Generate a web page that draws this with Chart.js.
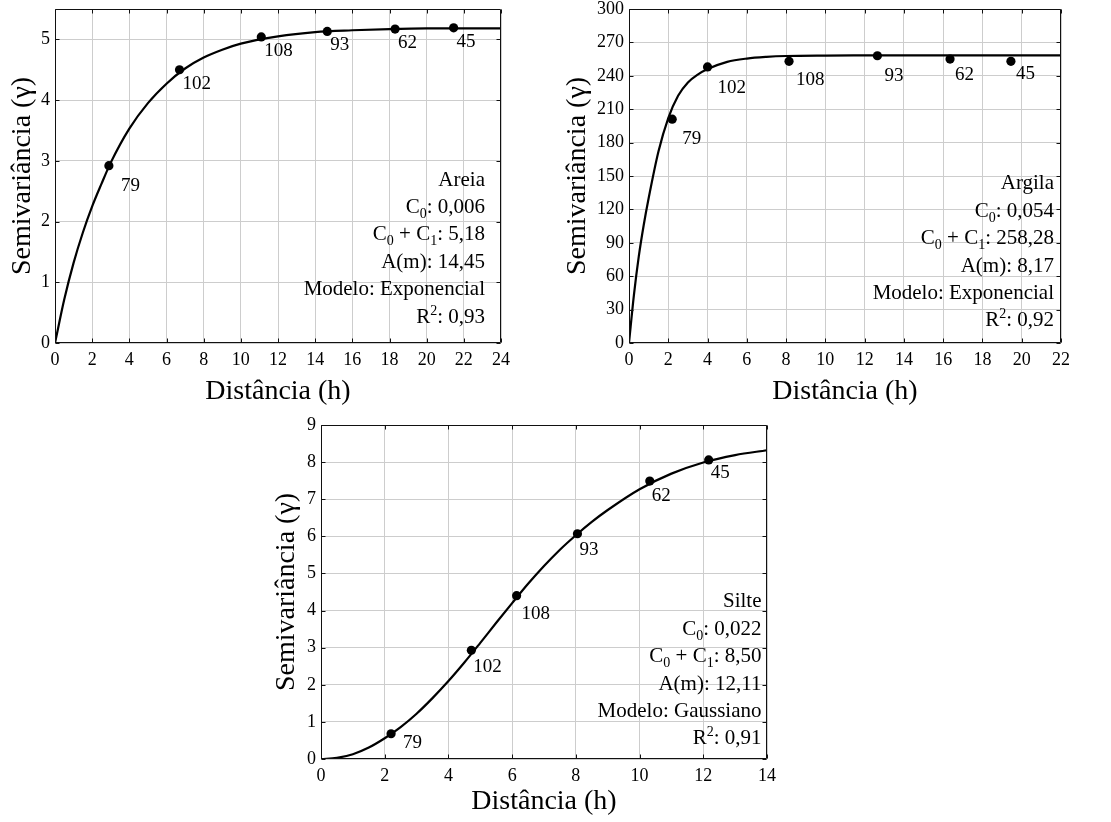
<!DOCTYPE html>
<html>
<head>
<meta charset="utf-8">
<script src="https://cdn.jsdelivr.net/npm/chart.js@4.4.1/dist/chart.umd.min.js"></script>
<style>
  html, body { margin: 0; padding: 0; background: #fff; }
  #wrap { position: relative; width: 1111px; height: 822px; overflow: hidden; background: #fff; }
  canvas { position: absolute; display: block; }
</style>
</head>
<body>
<div id="wrap">
  <canvas id="cAreia" width="530" height="412" style="left:0px;top:0px"></canvas>
  <canvas id="cArgila" width="551" height="412" style="left:560px;top:0px"></canvas>
  <canvas id="cSilte" width="530" height="410" style="left:265px;top:412px"></canvas>
</div>
<script>
// ---------- Areia ----------
const areiaLagH   = [2.9, 6.7, 11.1, 14.65, 18.3, 21.45];
const areiaGamma  = [2.92, 4.50, 5.04, 5.13, 5.17, 5.19];
const areiaPairs  = [79, 102, 108, 93, 62, 45];
const areiaModelH = [0, 0.5, 1, 1.5, 2, 2.5, 3, 4, 5, 6, 7, 8, 9, 10, 12, 14, 16, 18, 20, 22, 24];
const areiaModelG = [0, 0.72, 1.32, 1.82, 2.25, 2.62, 2.97, 3.53, 3.95, 4.27, 4.52, 4.70, 4.83, 4.93, 5.05, 5.12, 5.15, 5.17, 5.18, 5.18, 5.18];
const areiaXTicks = [0, 2, 4, 6, 8, 10, 12, 14, 16, 18, 20, 22, 24];
const areiaYTicks = [0, 1, 2, 3, 4, 5];
const areiaNotes = [
  [['Areia']],
  [['C'], ['0', 'sub'], [': 0,006']],
  [['C'], ['0', 'sub'], [' + C'], ['1', 'sub'], [': 5,18']],
  [['A(m): 14,45']],
  [['Modelo: Exponencial']],
  [['R'], ['2', 'sup'], [': 0,93']]
];

// ---------- Argila ----------
const argilaLagH   = [2.2, 4.0, 8.15, 12.65, 16.35, 19.45];
const argilaGamma  = [201, 248, 253, 258, 255, 253];
const argilaPairs  = [79, 102, 108, 93, 62, 45];
const argilaModelH = [0, 0.25, 0.5, 0.75, 1, 1.5, 2, 2.5, 3, 3.5, 4, 5, 6, 7, 8, 10, 12, 14, 16, 18, 20, 22];
const argilaModelG = [0, 43, 78, 106, 130, 172, 202, 222, 234, 241, 246, 252.5, 255.5, 257, 257.8, 258.2, 258.28, 258.28, 258.28, 258.28, 258.28, 258.28];
const argilaXTicks = [0, 2, 4, 6, 8, 10, 12, 14, 16, 18, 20, 22];
const argilaYTicks = [0, 30, 60, 90, 120, 150, 180, 210, 240, 270, 300];
const argilaNotes = [
  [['Argila']],
  [['C'], ['0', 'sub'], [': 0,054']],
  [['C'], ['0', 'sub'], [' + C'], ['1', 'sub'], [': 258,28']],
  [['A(m): 8,17']],
  [['Modelo: Exponencial']],
  [['R'], ['2', 'sup'], [': 0,92']]
];

// ---------- Silte ----------
const silteLagH   = [2.2, 4.72, 6.14, 8.05, 10.32, 12.17];
const silteGamma  = [0.68, 2.93, 4.40, 6.07, 7.49, 8.06];
const siltePairs  = [79, 102, 108, 93, 62, 45];
const silteModelH = [0, 0.5, 1, 1.5, 2, 2.5, 3, 3.5, 4, 4.5, 5, 5.5, 6, 6.5, 7, 7.5, 8, 8.5, 9, 10, 11, 12, 13, 14];
const silteModelG = [0, 0.03, 0.13, 0.31, 0.56, 0.86, 1.22, 1.64, 2.10, 2.60, 3.13, 3.67, 4.20, 4.72, 5.20, 5.64, 6.03, 6.39, 6.71, 7.27, 7.69, 7.99, 8.19, 8.32];
const silteXTicks = [0, 2, 4, 6, 8, 10, 12, 14];
const silteYTicks = [0, 1, 2, 3, 4, 5, 6, 7, 8, 9];
const silteNotes = [
  [['Silte']],
  [['C'], ['0', 'sub'], [': 0,022']],
  [['C'], ['0', 'sub'], [' + C'], ['1', 'sub'], [': 8,50']],
  [['A(m): 12,11']],
  [['Modelo: Gaussiano']],
  [['R'], ['2', 'sup'], [': 0,91']]
];

const X_TITLE = 'Distância (h)';
const Y_TITLE = 'Semivariância (γ)';

// ---------- styling ----------
const SERIF = "'Liberation Serif', 'Times New Roman', Times, serif";
const GRID = '#cdcdcd';

// plot frame drawn on top of the grid, with short inward tick marks on all four sides
const framePlugin = {
  id: 'frame',
  afterDatasetsDraw(chart) {
    const { ctx, chartArea: a, scales } = chart;
    ctx.save();
    ctx.strokeStyle = '#111';
    ctx.lineWidth = 1;
    const L = Math.round(a.left) + 0.5, R = Math.round(a.right) - 0.5;
    const T = Math.round(a.top) + 0.5, B = Math.round(a.bottom) - 0.5;
    ctx.beginPath();
    ctx.rect(L, T, R - L, B - T);
    const tl = 4;
    scales.x.ticks.forEach(t => {
      const p = Math.round(scales.x.getPixelForValue(t.value)) + 0.5;
      ctx.moveTo(p, B); ctx.lineTo(p, B - tl);
      ctx.moveTo(p, T); ctx.lineTo(p, T + tl);
    });
    scales.y.ticks.forEach(t => {
      const p = Math.round(scales.y.getPixelForValue(t.value)) + 0.5;
      ctx.moveTo(L, p); ctx.lineTo(L + tl, p);
      ctx.moveTo(R, p); ctx.lineTo(R - tl, p);
    });
    ctx.stroke();
    ctx.restore();
  }
};

// pair counts written next to each experimental point
const pairLabelPlugin = {
  id: 'pairLabels',
  afterDatasetsDraw(chart, args, opts) {
    const { ctx } = chart;
    const meta = chart.getDatasetMeta(1);
    ctx.save();
    ctx.fillStyle = '#000';
    ctx.font = `19px ${SERIF}`;
    ctx.textAlign = 'left';
    ctx.textBaseline = 'alphabetic';
    meta.data.forEach((pt, i) => {
      const [dx, dy] = opts.offsets[i];
      ctx.fillText(String(opts.labels[i]), pt.x + dx, pt.y + dy);
    });
    ctx.restore();
  }
};

// right-aligned block of model parameters with sub/superscripts
const notesPlugin = {
  id: 'notes',
  afterDatasetsDraw(chart, args, opts) {
    const { ctx, chartArea: a } = chart;
    const big = `21px ${SERIF}`, small = `14px ${SERIF}`;
    const right = a.right - opts.right;
    const lastBase = a.bottom - opts.bottom;
    const n = opts.lines.length;
    ctx.save();
    ctx.fillStyle = '#000';
    ctx.textAlign = 'left';
    ctx.textBaseline = 'alphabetic';
    opts.lines.forEach((segs, li) => {
      const base = lastBase - (n - 1 - li) * opts.step;
      let w = 0;
      segs.forEach(([t, k]) => { ctx.font = k ? small : big; w += ctx.measureText(t).width; });
      let x = right - w;
      segs.forEach(([t, k]) => {
        ctx.font = k ? small : big;
        const y = k === 'sub' ? base + 5 : (k === 'sup' ? base - 8 : base);
        ctx.fillText(t, x, y);
        x += ctx.measureText(t).width;
      });
    });
    ctx.restore();
  }
};

function buildChart(id, d, lay) {
  const tickFont = { family: SERIF, size: 18 };
  const titleFont = { family: SERIF, size: 28, lineHeight: 1.2 };
  return new Chart(document.getElementById(id), {
    type: 'scatter',
    data: {
      datasets: [
        {
          data: d.modelH.map((h, i) => ({ x: h, y: d.modelG[i] })),
          showLine: true,
          borderColor: '#000',
          borderWidth: 2.2,
          pointRadius: 0,
          cubicInterpolationMode: 'monotone',
          fill: false
        },
        {
          data: d.lagH.map((h, i) => ({ x: h, y: d.gamma[i] })),
          showLine: false,
          pointRadius: 4.6,
          pointBackgroundColor: '#000',
          pointBorderColor: '#000',
          pointBorderWidth: 0
        }
      ]
    },
    options: {
      responsive: false,
      animation: false,
      layout: { padding: lay.pad },
      plugins: {
        legend: { display: false },
        tooltip: { enabled: false },
        pairLabels: { labels: d.pairs, offsets: lay.labelOffsets },
        notes: { lines: d.notes, right: lay.notesRight, bottom: lay.notesBottom, step: 27.4 }
      },
      scales: {
        x: {
          type: 'linear',
          min: d.xTicks[0],
          max: d.xTicks[d.xTicks.length - 1],
          afterBuildTicks: s => { s.ticks = d.xTicks.map(v => ({ value: v })); },
          afterFit: s => { s.height = lay.xHeight; s.paddingLeft = 0; s.paddingRight = 0; },
          grid: { color: GRID, lineWidth: 1, drawTicks: false },
          border: { display: false },
          ticks: { font: tickFont, color: '#000', padding: 6, maxRotation: 0, autoSkip: false, callback: v => String(v) },
          title: { display: true, text: X_TITLE, color: '#000', font: titleFont, padding: { top: 0, bottom: lay.xTitlePad } }
        },
        y: {
          type: 'linear',
          min: 0,
          max: d.yMax,
          afterBuildTicks: s => { s.ticks = d.yTicks.map(v => ({ value: v })); },
          afterFit: s => { s.width = lay.yWidth; s.paddingTop = 0; s.paddingBottom = 0; },
          grid: { color: GRID, lineWidth: 1, drawTicks: false },
          border: { display: false },
          ticks: { font: tickFont, color: '#000', padding: 5, autoSkip: false, callback: v => String(v) },
          title: { display: true, text: Y_TITLE, color: '#000', font: titleFont, padding: { top: lay.yTitlePad, bottom: 0 } }
        }
      }
    },
    plugins: [framePlugin, pairLabelPlugin, notesPlugin]
  });
}

buildChart('cAreia',
  { lagH: areiaLagH, gamma: areiaGamma, pairs: areiaPairs, modelH: areiaModelH, modelG: areiaModelG,
    xTicks: areiaXTicks, yTicks: areiaYTicks, yMax: 5.5, notes: areiaNotes },
  { pad: { left: 0, top: 9, right: 29, bottom: 0 }, yWidth: 55, xHeight: 69, xTitlePad: 4, yTitlePad: 6,
    notesRight: 16, notesBottom: 20.5,
    labelOffsets: [[12, 25], [3, 19], [3, 19], [3, 19], [3, 19], [3, 19]] });

buildChart('cArgila',
  { lagH: argilaLagH, gamma: argilaGamma, pairs: argilaPairs, modelH: argilaModelH, modelG: argilaModelG,
    xTicks: argilaXTicks, yTicks: argilaYTicks, yMax: 300, notes: argilaNotes },
  { pad: { left: 0, top: 9, right: 50, bottom: 0 }, yWidth: 69, xHeight: 69, xTitlePad: 4, yTitlePad: 1,
    notesRight: 7, notesBottom: 16.6,
    labelOffsets: [[10, 25], [10, 26], [7, 24], [7, 25], [5, 21], [5, 18]] });

buildChart('cSilte',
  { lagH: silteLagH, gamma: silteGamma, pairs: siltePairs, modelH: silteModelH, modelG: silteModelG,
    xTicks: silteXTicks, yTicks: silteYTicks, yMax: 9, notes: silteNotes },
  { pad: { left: 0, top: 13, right: 28, bottom: 0 }, yWidth: 56, xHeight: 63, xTitlePad: 4, yTitlePad: 5,
    notesRight: 5.5, notesBottom: 14.7,
    labelOffsets: [[12, 14], [2, 22], [5, 23], [2, 21], [2, 20], [2, 18]] });
</script>
</body>
</html>
